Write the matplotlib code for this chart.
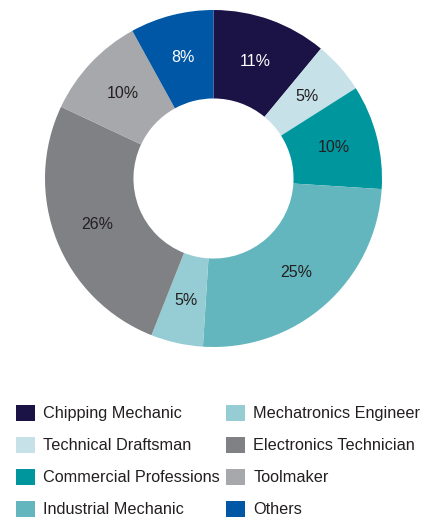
import matplotlib.pyplot as plt
from matplotlib.patches import Patch

plt.rcParams['font.family'] = ['Liberation Sans', 'DejaVu Sans']

jobs = ['Chipping Mechanic', 'Technical Draftsman', 'Commercial Professions',
        'Industrial Mechanic', 'Mechatronics Engineer', 'Electronics Technician',
        'Toolmaker', 'Others']
shares = [11, 5, 10, 25, 5, 26, 10, 8]
colors = ['#1b1245', '#c6e1e7', '#00969d', '#64b6be',
          '#96ccd3', '#808185', '#a7a8ac', '#0057a5']
text_colors = ['white', '#231f20', '#231f20', '#231f20',
               '#231f20', '#231f20', '#231f20', 'white']

W, H = 428, 518
fig = plt.figure(figsize=(W / 100, H / 100), dpi=100)

# donut axes: centre (213.5, 178.5) px, radius 168.5 px
cx, cy, r = 213.5, 178.5, 168.5
ax = fig.add_axes([(cx - r) / W, (H - cy - r) / H, 2 * r / W, 2 * r / H])
wedges, texts = ax.pie(shares, colors=colors, startangle=90, counterclock=False,
                       radius=1, wedgeprops=dict(width=0.525, linewidth=0),
                       labels=[f'{s}%' for s in shares], labeldistance=0.74,
                       textprops=dict(fontsize=11.5, ha='center', va='center'))
for t, c in zip(texts, text_colors):
    t.set_color(c)
ax.set_xlim(-1, 1)
ax.set_ylim(-1, 1)
ax.set_aspect('auto')
ax.axis('off')

handles = [Patch(facecolor=c, edgecolor='none') for c in colors]
fig.legend(handles, jobs, ncol=2, loc='upper left',
           bbox_to_anchor=(16 / W, 1 - 404.5 / H), frameon=False,
           fontsize=11.7, handlelength=1.17, handleheight=1.17,
           handletextpad=0.5, columnspacing=0.38, labelspacing=0.95,
           borderaxespad=0, borderpad=0, labelcolor='#231f20')

fig.savefig('out.png', dpi=100)
